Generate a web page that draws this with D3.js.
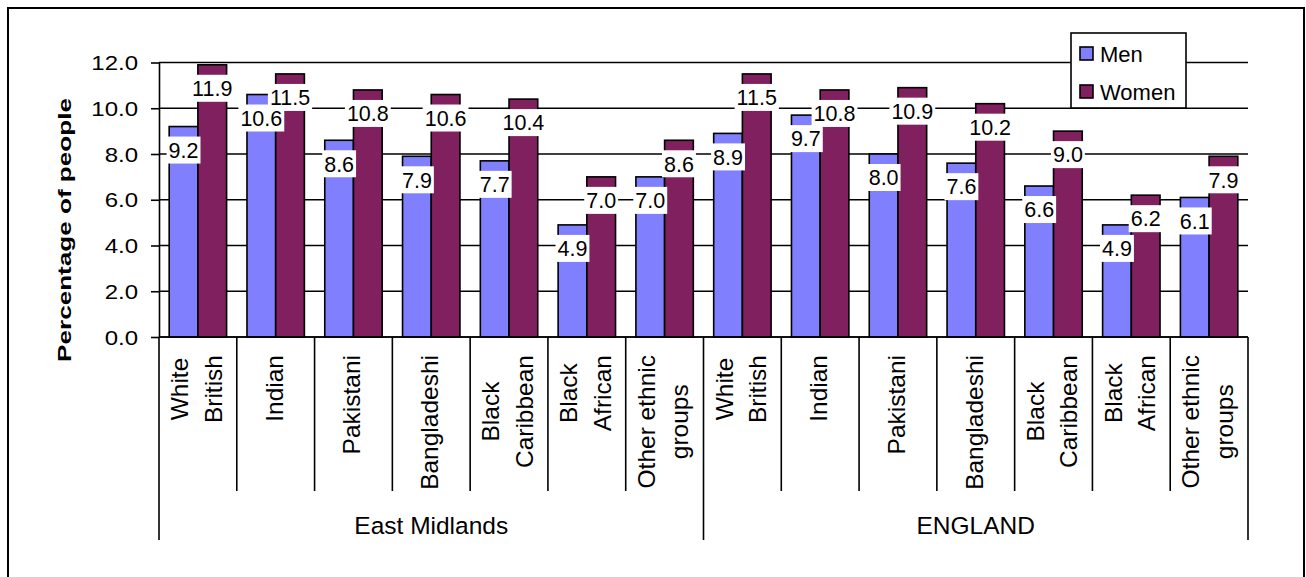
<!DOCTYPE html>
<html>
<head>
<meta charset="utf-8">
<script src="https://cdn.jsdelivr.net/npm/d3@7"></script>
<style>
  html, body { margin: 0; padding: 0; background: #fff; }
  svg { display: block; font-family: "Liberation Sans", Arial, sans-serif; }
</style>
</head>
<body>
<svg id="chart" width="1306" height="577"></svg>
<script>
// Regions and ethnic groups along the category axis
const regions = ["East Midlands", "ENGLAND"];
const ethnicGroups = [
  ["White", "British"],
  ["Indian"],
  ["Pakistani"],
  ["Bangladeshi"],
  ["Black", "Caribbean"],
  ["Black", "African"],
  ["Other ethnic", "groups"]
];
const seriesNames = ["Men", "Women"];

// Percentage of people, per region, in ethnic-group order
const menEastMidlands   = [9.2, 10.6, 8.6, 7.9, 7.7, 4.9, 7.0];
const womenEastMidlands = [11.9, 11.5, 10.8, 10.6, 10.4, 7.0, 8.6];
const menEngland        = [8.9, 9.7, 8.0, 7.6, 6.6, 4.9, 6.1];
const womenEngland      = [11.5, 10.8, 10.9, 10.2, 9.0, 6.2, 7.9];

const yTicks = [0, 2, 4, 6, 8, 10, 12];
const yTitle = "Percentage of people";

const colors = { Men: "#8080ff", Women: "#80205f" };

// Flat rows: one per region/ethnic group
const valuesByRegion = {
  "East Midlands": { Men: menEastMidlands, Women: womenEastMidlands },
  "ENGLAND": { Men: menEngland, Women: womenEngland }
};
const rows = [];
regions.forEach(r => {
  ethnicGroups.forEach((lines, i) => {
    rows.push({
      key: r + "|" + i,
      region: r,
      lines: lines,
      Men: valuesByRegion[r].Men[i],
      Women: valuesByRegion[r].Women[i]
    });
  });
});

const svg = d3.select("#chart");

// Outer frame
svg.append("rect")
  .attr("x", 8).attr("y", 8)
  .attr("width", 1296).attr("height", 580)
  .attr("fill", "none").attr("stroke", "#000").attr("stroke-width", 2);

const plot = { left: 159, right: 1248, top: 62.5, bottom: 337 };

const x = d3.scaleBand()
  .domain(rows.map(d => d.key))
  .range([plot.left, plot.right])
  .padding(0);

const xs = d3.scaleBand()
  .domain(seriesNames)
  .range([0, x.bandwidth()])
  .paddingInner(0)
  .paddingOuter(0.355);

const y = d3.scaleLinear().domain([0, 12]).range([plot.bottom, plot.top]);

// Gridlines
svg.append("g")
  .selectAll("line")
  .data(yTicks)
  .join("line")
  .attr("x1", plot.left).attr("x2", plot.right)
  .attr("y1", d => y(d)).attr("y2", d => y(d))
  .attr("stroke", "#000").attr("stroke-width", 1.6);

// Y axis
const yAxis = svg.append("g")
  .attr("transform", `translate(${plot.left},0)`)
  .call(d3.axisLeft(y).tickValues(yTicks).tickFormat(d3.format(".1f")).tickSizeInner(8).tickSizeOuter(0).tickPadding(13));
yAxis.select(".domain").attr("stroke", "#000").attr("stroke-width", 1.6);
yAxis.selectAll(".tick line").attr("stroke", "#000").attr("stroke-width", 1.6);
yAxis.selectAll(".tick text")
  .attr("x", null).attr("dy", "0.36em")
  .attr("transform", "translate(-21,0) scale(1.2,1)")
  .attr("fill", "#000")
  .attr("font-family", "'Liberation Sans', Arial, sans-serif")
  .attr("font-size", 20);

// Y title
svg.append("text")
  .attr("transform", "translate(71,230) rotate(-90) scale(1.45,1)")
  .attr("text-anchor", "middle")
  .attr("font-weight", "bold")
  .attr("font-size", 18)
  .attr("fill", "#000")
  .text(yTitle);

// Bars
const barGroups = svg.append("g")
  .selectAll("g")
  .data(rows)
  .join("g")
  .attr("transform", d => `translate(${x(d.key)},0)`);

barGroups.selectAll("rect")
  .data(d => seriesNames.map(s => ({ s, v: d[s] })))
  .join("rect")
  .attr("x", d => xs(d.s))
  .attr("width", xs.bandwidth())
  .attr("y", d => y(d.v))
  .attr("height", d => y(0) - y(d.v))
  .attr("fill", d => colors[d.s])
  .attr("stroke", "#000")
  .attr("stroke-width", 1.6);

// X axis baseline
svg.append("line")
  .attr("x1", plot.left).attr("x2", plot.right)
  .attr("y1", y(0)).attr("y2", y(0))
  .attr("stroke", "#000").attr("stroke-width", 1.6);

// Value labels on white boxes, men first then women on top
const labelLayer = svg.append("g");
seriesNames.forEach(s => {
  rows.forEach(d => {
    const cx = x(d.key) + xs(s) + xs.bandwidth() / 2;
    const cy = y(d[s]) + 23.5;
    const g = labelLayer.append("g").attr("transform", `translate(${cx},${cy})`);
    const box = g.append("rect").attr("fill", "#fff");
    const t = g.append("text")
      .attr("text-anchor", "middle")
      .attr("dy", "0.36em")
      .attr("font-size", 21.5)
      .attr("fill", "#000")
      .text(d3.format(".1f")(d[s]));
    const w = t.node().getComputedTextLength() + 4;
    box.attr("x", -w / 2).attr("width", w).attr("y", -13.5).attr("height", 27);
  });
});

// Category separators and labels
const sepLayer = svg.append("g").attr("stroke", "#000").attr("stroke-width", 1.6);
rows.forEach((d, i) => {
  const x0 = x(d.key);
  const isRegionEdge = i % ethnicGroups.length === 0;
  sepLayer.append("line")
    .attr("x1", x0).attr("x2", x0)
    .attr("y1", y(0)).attr("y2", isRegionEdge ? 540 : 491);
});
sepLayer.append("line")
  .attr("x1", plot.right).attr("x2", plot.right)
  .attr("y1", y(0)).attr("y2", 540);

const catLabels = svg.append("g");
rows.forEach(d => {
  const cx = x(d.key) + x.bandwidth() / 2;
  const g = catLabels.append("g");
  const n = d.lines.length;
  const texts = d.lines.map((line, i) =>
    g.append("text")
      .attr("font-size", 24.5)
      .attr("fill", "#000")
      .attr("text-anchor", "middle")
      .text(line)
  );
  const maxLen = d3.max(texts, t => t.node().getComputedTextLength());
  texts.forEach((t, i) => {
    const bx = cx + 7 + (i - (n - 1) / 2) * 33.4;
    const by = 355 + maxLen / 2;
    t.attr("transform", `translate(${bx},${by}) rotate(-90)`);
  });
});

// Region labels
svg.append("g")
  .selectAll("text")
  .data(regions)
  .join("text")
  .attr("x", r => {
    const keys = rows.filter(d => d.region === r).map(d => d.key);
    return (x(keys[0]) + x(keys[keys.length - 1]) + x.bandwidth()) / 2;
  })
  .attr("y", 534)
  .attr("text-anchor", "middle")
  .attr("font-size", 24.5)
  .attr("fill", "#000")
  .text(r => r);

// Legend
const legend = svg.append("g").attr("transform", "translate(1071,33)");
legend.append("rect")
  .attr("width", 115).attr("height", 75)
  .attr("fill", "#fff").attr("stroke", "#000").attr("stroke-width", 1.6);
seriesNames.forEach((s, i) => {
  const gy = 21 + i * 38;
  legend.append("rect")
    .attr("x", 9).attr("y", gy - 7)
    .attr("width", 13).attr("height", 13)
    .attr("fill", colors[s]).attr("stroke", "#000").attr("stroke-width", 1.6);
  legend.append("text")
    .attr("x", 29).attr("y", gy + 7.5)
    .attr("font-size", 22)
    .attr("fill", "#000")
    .text(s);
});
</script>
</body>
</html>
